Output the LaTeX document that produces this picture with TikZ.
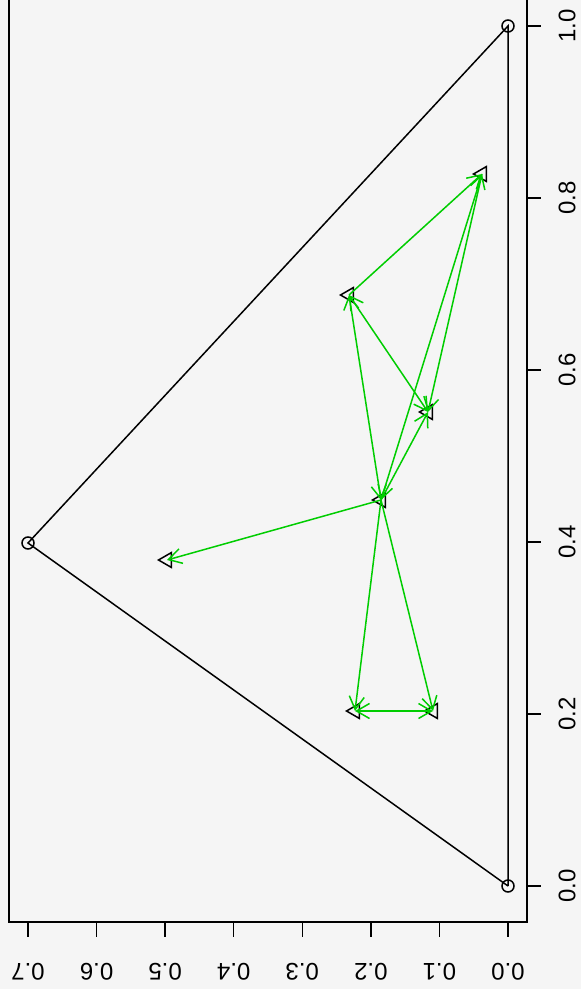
\documentclass[tikz,border=0pt]{standalone}
\usepackage{fontspec}
\setmainfont{Liberation Sans}
\usetikzlibrary{arrows.meta,shapes.geometric}
\definecolor{bg}{HTML}{F5F5F5}
\definecolor{grn}{HTML}{00CD00}
\begin{document}
\begin{tikzpicture}[x=0.5pt,y=-0.5pt,
  pt/.style={draw,circle,minimum size=6pt,inner sep=0pt,line width=0.75pt},
  tri/.style={draw,regular polygon,regular polygon sides=3,shape border rotate=90,minimum size=8.5pt,inner sep=0pt,line width=0.75pt},
  edge/.style={draw=grn,line width=0.75pt,-{Straight Barb[length=6.5pt,width=7.5pt]}},
  both/.style={draw=grn,line width=0.75pt,{Straight Barb[length=6.5pt,width=7.5pt]}-{Straight Barb[length=6.5pt,width=7.5pt]}},
  frame/.style={line width=0.75pt},
  lab/.style={font=\fontsize{12}{14}\selectfont,inner sep=0pt}]
\fill[bg] (0,0) rectangle (581,989);
\useasboundingbox (0,0) rectangle (581,989);
% frame
\draw[frame] (9,-5) -- (9,922) -- (527,922) -- (527,-5);
% right axis ticks and labels (x values)
\foreach \v/\t [count=\i] in {886/0.0,714/0.2,542/0.4,370/0.6,198/0.8,26/1.0}{
  \draw[frame] (527,\v) -- (541,\v);
  \node[lab,rotate=90] (xl\i) at (567,\v) {\t};
}
% bottom axis ticks and labels (y values)
\foreach \u/\t [count=\i] in {508/0.0,439.4/0.1,370.9/0.2,302.3/0.3,233.7/0.4,165.1/0.5,96.6/0.6,28/0.7}{
  \draw[frame] (\u,922) -- (\u,937);
  \node[lab,rotate=180] (yl\i) at (\u,972) {\t};
}
% outer triangle
\node[pt] (P1) at (508,886) {};
\node[pt] (P2) at (508,26) {};
\node[pt] (P3) at (28,543) {};
\draw[frame] (P1.center) -- (P2.center) -- (P3.center) -- (P1.center);
% inner points
\coordinate (A) at (482,174);
\coordinate (B) at (349,295);
\coordinate (C) at (428,412);
\coordinate (D) at (381,500);
\coordinate (E) at (167,560);
\coordinate (F) at (355,711);
\coordinate (G) at (433,711);
\foreach \p in {A,B,C,D,E,F,G}{\node[tri] (t\p) at (\p) {};}
% arrows
\draw[edge] (B) -- (A);
\draw[both] (B) -- (C);
\draw[both] (B) -- (D);
\draw[both] (A) -- (D);
\draw[edge] (A) -- (C);
\draw[edge] (D) -- (C);
\draw[edge] (D) -- (E);
\draw[edge] (D) -- (F);
\draw[edge] (D) -- (G);
\draw[both] (F) -- (G);
\end{tikzpicture}
\end{document}
